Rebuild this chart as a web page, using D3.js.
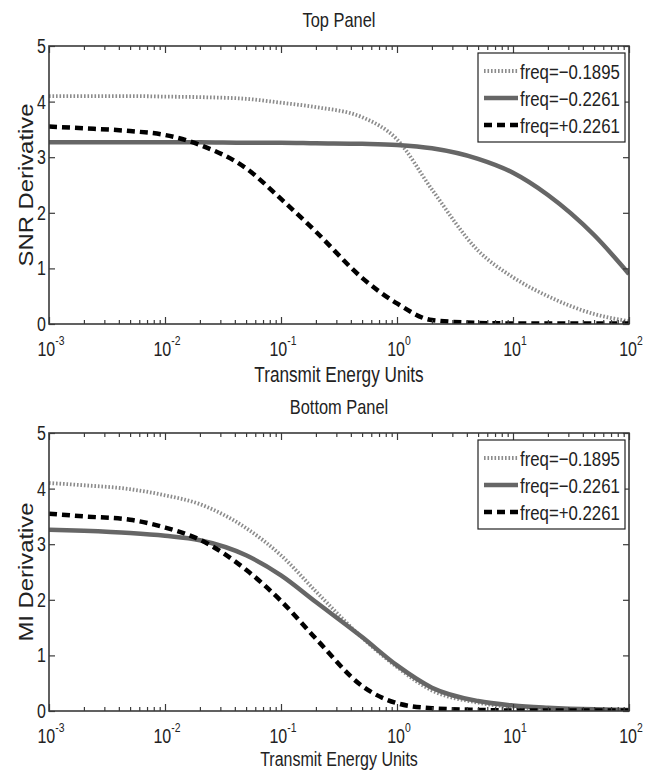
<!DOCTYPE html>
<html lang="en">
<head>
<meta charset="UTF-8">
<title>SNR / MI Derivative</title>
<script src="https://cdn.jsdelivr.net/npm/d3@7"></script>
<style>
    body {
        margin: 0;
        background: #fff;
    }
    svg text {
        font-family: "Liberation Sans", Arial, sans-serif;
        fill: #222;
    }
</style>
</head>
<body>
<svg id="chart" width="654" height="771"></svg>
<script>
    // energies sampled on the log axis
    const energy = [0.001, 0.002, 0.005, 0.01, 0.02, 0.05, 0.1, 0.2, 0.5, 1, 2, 5, 10, 20, 50, 100];

    // top panel (SNR derivative)
    const snrA = [4.10, 4.10, 4.10, 4.09, 4.08, 4.05, 3.98, 3.90, 3.72, 3.32, 2.42, 1.32, 0.84, 0.50, 0.18, 0.05];
    const snrB = [3.27, 3.27, 3.27, 3.27, 3.27, 3.26, 3.26, 3.25, 3.24, 3.22, 3.16, 2.97, 2.72, 2.32, 1.60, 0.90];
    const snrC = [3.55, 3.52, 3.47, 3.40, 3.22, 2.80, 2.25, 1.66, 0.83, 0.37, 0.07, 0.02, 0.01, 0.01, 0.01, 0.01];

    // bottom panel (MI derivative)
    const miA = [4.10, 4.06, 3.99, 3.88, 3.72, 3.29, 2.80, 2.15, 1.32, 0.79, 0.37, 0.15, 0.07, 0.04, 0.02, 0.01];
    const miB = [3.26, 3.24, 3.20, 3.15, 3.07, 2.80, 2.44, 1.96, 1.33, 0.82, 0.42, 0.18, 0.10, 0.06, 0.03, 0.02];
    const miC = [3.55, 3.50, 3.44, 3.30, 3.08, 2.54, 1.98, 1.30, 0.45, 0.14, 0.05, 0.02, 0.01, 0.01, 0.01, 0.01];

    const seriesNames = ["freq=\u22120.1895", "freq=\u22120.2261", "freq=+0.2261"];
    const decades = [1e-3, 1e-2, 1e-1, 1e0, 1e1, 1e2];
    const decadeExp = ["-3", "-2", "-1", "0", "1", "2"];
    const yTicks = [0, 1, 2, 3, 4, 5];

    const styles = [
        { color: "#8c8c8c", width: 3.8, dash: "1.6,1.9" },
        { color: "#666666", width: 4.5, dash: null },
        { color: "#000000", width: 4.5, dash: "8,5" }
    ];

    const svg = d3.select("#chart");
    const left = 49, right = 629;
    const SX = 0.8;   // the picture's lettering is condensed

    const x = d3.scaleLog().domain([1e-3, 1e2]).range([left, right]);

    // minor ticks 2..9 in every decade
    const minor = [];
    decades.slice(0, -1).forEach(d => {
        for (let k = 2; k <= 9; k++) minor.push(d * k);
    });

    // text placed in a squeezed group
    function label(parent, px, py, str, size, anchor) {
        const t = parent.append("g")
            .attr("transform", `translate(${px},${py}) scale(${SX},1)`)
            .append("text")
            .attr("text-anchor", anchor)
            .attr("font-size", size);
        if (str !== null) t.text(str);
        return t;
    }

    function drawPanel(top, title, ylabel, yLen, data, id) {
        const bottom = top + 278;
        const y = d3.scaleLinear().domain([0, 5]).range([bottom, top]);
        const g = svg.append("g");

        g.append("clipPath").attr("id", "clip" + id)
            .append("rect")
            .attr("x", left).attr("y", top)
            .attr("width", right - left).attr("height", bottom - top);

        // lines
        const line = d3.line()
            .x(d => x(d[0]))
            .y(d => y(d[1]))
            .curve(d3.curveMonotoneX);

        const lines = g.append("g").attr("clip-path", "url(#clip" + id + ")");
        data.forEach((vals, i) => {
            const s = styles[i];
            lines.append("path")
                .datum(energy.map((e, j) => [e, vals[j]]))
                .attr("d", line)
                .attr("fill", "none")
                .attr("stroke", s.color)
                .attr("stroke-width", s.width)
                .attr("stroke-dasharray", s.dash);
        });

        // axes with inward ticks, box style
        const axisColor = "#3a3a3a";
        const mk = (sel) => {
            sel.select(".domain").remove();
            sel.selectAll("line").attr("stroke", axisColor).attr("stroke-width", 1.2);
        };
        g.append("g").attr("transform", `translate(0,${bottom})`)
            .call(d3.axisBottom(x).tickValues(decades).tickSize(-7).tickFormat("")).call(mk);
        g.append("g").attr("transform", `translate(0,${bottom})`)
            .call(d3.axisBottom(x).tickValues(minor).tickSize(-4).tickFormat("")).call(mk);
        g.append("g").attr("transform", `translate(0,${top})`)
            .call(d3.axisTop(x).tickValues(decades).tickSize(-7).tickFormat("")).call(mk);
        g.append("g").attr("transform", `translate(0,${top})`)
            .call(d3.axisTop(x).tickValues(minor).tickSize(-4).tickFormat("")).call(mk);
        g.append("g").attr("transform", `translate(${left},0)`)
            .call(d3.axisLeft(y).tickValues(yTicks).tickSize(-6).tickFormat("")).call(mk);
        g.append("g").attr("transform", `translate(${right},0)`)
            .call(d3.axisRight(y).tickValues(yTicks).tickSize(-6).tickFormat("")).call(mk);

        g.append("rect")
            .attr("x", left).attr("y", top)
            .attr("width", right - left).attr("height", bottom - top)
            .attr("fill", "none")
            .attr("stroke", axisColor)
            .attr("stroke-width", 1.6);

        // y tick labels
        yTicks.forEach(d => label(g, left - 3, y(d) + 7, d, 20, "end"));

        // x tick labels 10^n
        decades.forEach((d, i) => {
            const t = label(g, x(d) + 2, bottom + 32, null, 20, "middle");
            t.append("tspan").text("10");
            t.append("tspan").attr("dy", -11).attr("font-size", 13).text(decadeExp[i]);
        });

        // titles
        label(g, (left + right) / 2, top - 19, title, 20.5, "middle");
        const xlBase = Math.min(bottom + 58, 766);
        label(g, (left + right) / 2, xlBase, "Transmit Energy Units", xlBase < bottom + 58 ? 20 : 21.5, "middle");

        // y label, stretched along its length like the picture
        g.append("g")
            .attr("transform", `translate(33,${(top + bottom) / 2}) rotate(-90)`)
            .append("text")
            .attr("text-anchor", "middle")
            .attr("font-size", 20)
            .attr("textLength", yLen)
            .attr("lengthAdjust", "spacingAndGlyphs")
            .text(ylabel);

        // legend
        const lg = g.append("g").attr("transform", `translate(478,${top + 7})`);
        lg.append("rect")
            .attr("width", 147).attr("height", 89)
            .attr("fill", "#fff")
            .attr("stroke", "#222")
            .attr("stroke-width", 1.2);
        seriesNames.forEach((name, i) => {
            const s = styles[i];
            const yy = 18 + i * 27;
            lg.append("line")
                .attr("x1", 6).attr("x2", 40)
                .attr("y1", yy).attr("y2", yy)
                .attr("stroke", s.color)
                .attr("stroke-width", s.width)
                .attr("stroke-dasharray", s.dash);
            label(lg, 42, yy + 8, name, 21, "start");
        });
    }

    drawPanel(46, "Top Panel", "SNR Derivative", 163, [snrA, snrB, snrC], "top");
    drawPanel(433, "Bottom Panel", "MI Derivative", 139, [miA, miB, miC], "bot");
</script>
</body>
</html>
